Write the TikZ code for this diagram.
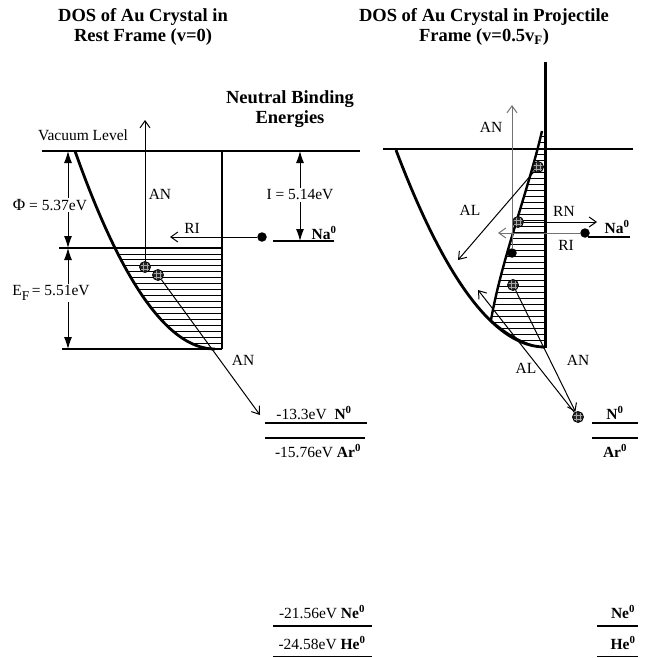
\documentclass[tikz,border=0pt]{standalone}
\usepackage{fontspec}
\setmainfont{Liberation Serif}
\usetikzlibrary{arrows.meta}
\begin{document}
\begin{tikzpicture}[x=1pt,y=-1pt,
  lbl/.style={font=\fontsize{15.5}{17}\selectfont, inner sep=0pt},
  ttl/.style={font=\bfseries\fontsize{18.5}{20}\selectfont, align=center, inner sep=0pt},
  elec/.style={circle, draw=black, fill=black!85, minimum size=11pt, inner sep=0pt, line width=0.8pt,
    path picture={\draw[black!35, line width=0.6pt]
      ([xshift=-1.8pt]path picture bounding box.north) -- ([xshift=-1.8pt]path picture bounding box.south)
      ([xshift=1.8pt]path picture bounding box.north) -- ([xshift=1.8pt]path picture bounding box.south)
      ([yshift=-1.8pt]path picture bounding box.west) -- ([yshift=-1.8pt]path picture bounding box.east)
      ([yshift=1.8pt]path picture bounding box.west) -- ([yshift=1.8pt]path picture bounding box.east);}},
  sdot/.style={circle, fill=black, minimum size=9.5pt, inner sep=0pt},
  arr/.style={-{Straight Barb[length=7pt,width=10pt,line width=1pt]}, line width=1pt},
  garr/.style={arr, black!55},
  darr/.style={{Latex[length=12pt,width=8pt]}-{Latex[length=12pt,width=8pt]}, line width=1pt},
  level/.style={line width=1.1pt},
  hatchline/.style={line width=0.8pt},
  doscurve/.style={line width=2.8pt}
]
\useasboundingbox (0,0) rectangle (646,658);

% ---------- titles ----------
\node[ttl] (tl) at (143,27) {DOS of Au Crystal in\\Rest Frame (v=0)};
\node[ttl] (tr) at (484,27) {DOS of Au Crystal in Projectile\\Frame (v=0.5v\textsubscript{F})};
\node[ttl] (nb) at (290,109) {Neutral Binding\\Energies};
\node[lbl] (vac) at (83,135) {Vacuum Level};

% ---------- left panel ----------
\begin{scope}
  \clip plot[domain=115:215, samples=40] (\x, {349-1.01*((215-\x)/10)^2}) -- (222,349) -- (222,248) -- cycle;
  \foreach \k in {1,...,16} {
    \draw[hatchline] (60,{248+\k*101/17}) -- (230,{248+\k*101/17});
  }
\end{scope}
\draw[level] (42,151) -- (360,151);
\draw[level] (59,248) -- (222,248);
\draw[level] (62,349) -- (222,349);
\draw[line width=1.8pt] (222,151) -- (222,349);
\draw[doscurve] plot[domain=75:215, samples=60] (\x, {349-1.01*((215-\x)/10)^2});

% work function / Fermi energy arrows
\coordinate (vacL) at (68,151);
\coordinate (efL) at (68,248);
\coordinate (botL) at (68,349);
\draw[darr] (vacL) -- (efL);
\draw[darr] (efL) -- (botL);
\node[lbl, fill=white, inner sep=1.5pt] (phi) at (50,205) {{\fontsize{17}{17}\selectfont Φ} = 5.37eV};
\node[lbl, fill=white, inner sep=1.5pt] (ef) at (51,293) {E\raisebox{-4.5pt}{\fontsize{13.5}{14}\selectfont F}\,= 5.51eV};

% ionization energy
\coordinate (vacI) at (300,151);
\coordinate (naI) at (300,241);
\draw[darr] (vacI) -- (naI);
\node[lbl, fill=white, inner sep=1.5pt] (ion) at (300,195) {I = 5.14eV};

% Na level
\draw[level] (273,241) -- (334,241);
\node[lbl, font=\bfseries\fontsize{15.5}{17}\selectfont] (naLbl) at (324,233) {Na\textsuperscript{0}};

% electrons and processes
\node[elec] (e1) at (145,267) {};
\node[elec] (e2) at (158,275) {};
\node[sdot] (naL) at (262,237) {};
\coordinate (anTipL) at (145,120);
\coordinate (riTipL) at (170,237);
\coordinate (anTipL2) at (260,415);
\draw[arr] (e1) -- (anTipL);
\draw[arr] (naL) -- (riTipL);
\draw[arr] (e2) -- (anTipL2);
\node[lbl] (anL1) at (160,194) {AN};
\node[lbl] (riL) at (192,228) {RI};
\node[lbl] (anL2) at (243,360) {AN};

% ---------- right panel ----------
\begin{scope}
  \clip (542,131) .. controls (527,195) and (502,258) .. (491,320)
        .. controls (507,334) and (525,345) .. (545,348) -- (545,131) -- cycle;
  \foreach \k in {0,...,35} {
    \draw[hatchline] (480,{136+\k*6}) -- (550,{136+\k*6});
  }
\end{scope}
\draw[line width=2.4pt] (542,131) .. controls (527,195) and (502,258) .. (491,320);
\draw[line width=1.1pt] (491,320) .. controls (507,334) and (525,345) .. (545,348);
\draw[level] (383,149) -- (633,149);
\draw[line width=3pt] (545,62) -- (545,348);
\draw[doscurve] plot[domain=396:545, samples=60] (\x, {347-0.887*((545-\x)/10)^2});

% Na level right
\draw[level] (588,237) -- (630,237);
\node[lbl, font=\bfseries\fontsize{15.5}{17}\selectfont] (naRLbl) at (617,227) {Na\textsuperscript{0}};

% electrons and processes right
\node[elec] (eT) at (538,167) {};
\node[elec] (eM) at (518,222) {};
\node[sdot] (dS) at (512,253) {};
\node[elec] (eB) at (513,285) {};
\node[sdot] (naR) at (585,233) {};
\node[elec] (eN) at (578,417) {};
\coordinate (anTipR) at (512,105);
\coordinate (alTipR) at (458,260);
\coordinate (rnTipR) at (597,222);
\coordinate (riTipR) at (498,233);
\coordinate (alTipR2) at (478,290);
\draw[garr, line width=0.8pt] (dS) -- (anTipR);
\draw[arr] (eT) -- (alTipR);
\draw[arr] (eM) -- (rnTipR);
\draw[garr] (naR) -- (riTipR);
\draw[arr] (eN) -- (alTipR2);
\draw[arr] (eB) -- (eN);
\node[lbl] (anR1) at (491,127) {AN};
\node[lbl] (alR1) at (470,210) {AL};
\node[lbl] (rnR) at (564,211) {RN};
\node[lbl] (riR) at (566,245) {RI};
\node[lbl] (alR2) at (526,368) {AL};
\node[lbl] (anR2) at (578,360) {AN};

% ---------- binding energy levels ----------
\draw[level] (265,423) -- (367,423);
\node[lbl] (nL) at (314,413) {-13.3eV\ \ \textbf{N\textsuperscript{0}}};
\draw[level] (265,438) -- (365,438);
\node[lbl] (arL) at (318,451) {-15.76eV \textbf{Ar\textsuperscript{0}}};
\node[lbl] (neL) at (322,612) {-21.56eV \textbf{Ne\textsuperscript{0}}};
\draw[level] (273,626) -- (372,626);
\node[lbl] (heL) at (322,643) {-24.58eV \textbf{He\textsuperscript{0}}};
\draw[level] (273,656.5) -- (372,656.5);

\draw[level] (592,423) -- (638,423);
\node[lbl] (nR) at (615,413) {\textbf{N\textsuperscript{0}}};
\draw[level] (592,438) -- (638,438);
\node[lbl] (arR) at (615,451) {\textbf{Ar\textsuperscript{0}}};
\node[lbl] (neR) at (623,612) {\textbf{Ne\textsuperscript{0}}};
\draw[level] (597,626) -- (638,626);
\node[lbl] (heR) at (623,643) {\textbf{He\textsuperscript{0}}};
\draw[level] (597,656.5) -- (638,656.5);
\end{tikzpicture}
\end{document}
